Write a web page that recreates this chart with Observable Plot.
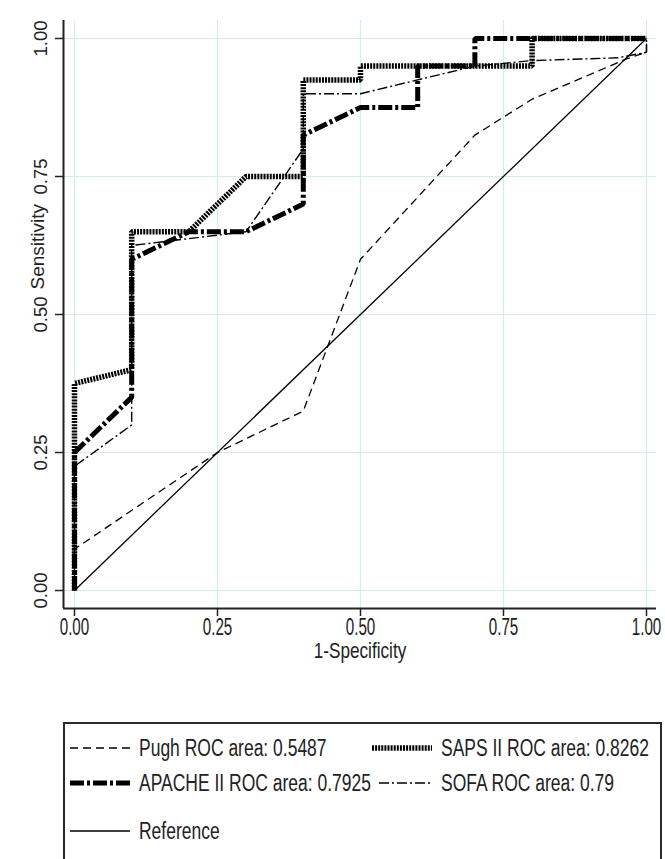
<!DOCTYPE html>
<html>
<head>
<meta charset="utf-8">
<script src="https://cdn.jsdelivr.net/npm/d3@7"></script>
<script src="https://cdn.jsdelivr.net/npm/@observablehq/plot@0.6"></script>
<style>
  html, body { margin: 0; padding: 0; background: #fff; }
  #wrap { position: relative; width: 665px; height: 859px; overflow: hidden; }
  #legend { position: absolute; left: 63px; top: 722px; width: 599px; height: 170px;
            border: 2px solid #2a2a2a; box-sizing: border-box; background: #fff; }
  .lg-item { position: absolute; display: flex; align-items: center; height: 30px;
             font-family: "Liberation Sans", Arial, sans-serif;
             font-size: 23px; color: #222; white-space: nowrap; }
  .lg-item svg { margin-right: 9px; flex: none; }
  .lg-item span { display: inline-block; transform: scaleX(0.76); transform-origin: left center; }
</style>
</head>
<body>
<div id="wrap"><div id="chart"></div><div id="legend"></div></div>
<script>
// ---- data ----
const xTicks = [0, 0.25, 0.5, 0.75, 1];
const yTicks = [0, 0.25, 0.5, 0.75, 1];

const pughX = [0, 0, 0.25, 0.4, 0.5, 0.7, 0.8, 0.965, 1, 1];
const pughY = [0, 0.075, 0.25, 0.325, 0.6, 0.825, 0.89, 0.963, 0.975, 1];

const sapsX = [0, 0, 0.1, 0.1, 0.2, 0.3, 0.4, 0.4, 0.5, 0.5, 0.8, 0.8, 1];
const sapsY = [0, 0.375, 0.4, 0.65, 0.65, 0.75, 0.75, 0.925, 0.925, 0.95, 0.95, 1, 1];

const apacheX = [0, 0, 0.1, 0.1, 0.2, 0.3, 0.4, 0.4, 0.5, 0.6, 0.6, 0.7, 0.7, 1];
const apacheY = [0, 0.25, 0.35, 0.6, 0.65, 0.65, 0.7, 0.825, 0.875, 0.875, 0.95, 0.95, 1, 1];

const sofaX = [0, 0, 0.1, 0.1, 0.3, 0.4, 0.4, 0.5, 0.7, 0.8, 0.95, 1, 1];
const sofaY = [0, 0.225, 0.3, 0.625, 0.65, 0.8, 0.9, 0.9, 0.95, 0.96, 0.965, 0.975, 1];

const refX = [0, 1];
const refY = [0, 1];

const seriesNames = ["Pugh", "SAPS II", "APACHE II", "SOFA", "Reference"];
const legendLabels = ["Pugh ROC area: 0.5487", "SAPS II ROC area: 0.8262",
                      "APACHE II ROC area: 0.7925", "SOFA ROC area: 0.79", "Reference"];

// ---- styles ----
const styles = {
  "Pugh":      {strokeWidth: 1.3, strokeDasharray: "8,5"},
  "SAPS II":   {strokeWidth: 5.5, strokeDasharray: "2,1.1"},
  "APACHE II": {strokeWidth: 5, strokeDasharray: "14,3,3,3"},
  "SOFA":      {strokeWidth: 1.4, strokeDasharray: "10,3,2,3"},
  "Reference": {strokeWidth: 1.3}
};

const pts = (xs, ys) => xs.map((x, i) => ({x, y: ys[i]}));
const data = {
  "Pugh": pts(pughX, pughY),
  "SAPS II": pts(sapsX, sapsY),
  "APACHE II": pts(apacheX, apacheY),
  "SOFA": pts(sofaX, sofaY),
  "Reference": pts(refX, refY)
};

const regular = '"Liberation Sans", Arial, sans-serif';
const fmt = d3.format(".2f");
const xDomain = [-0.0192, 1.0175];
const yDomain = [-0.0326, 1.0326];
const gridColor = "#d3ecef";

const chart = Plot.plot({
  width: 665,
  height: 700,
  marginLeft: 63,
  marginRight: 9,
  marginTop: 20,
  marginBottom: 92,
  style: {background: "#fff", color: "#222"},
  x: {domain: xDomain},
  y: {domain: yDomain},
  marks: [
    Plot.gridX(xTicks, {stroke: gridColor, strokeOpacity: 1, strokeWidth: 1.2}),
    Plot.gridY(yTicks, {stroke: gridColor, strokeOpacity: 1, strokeWidth: 1.2}),
    Plot.ruleX([xDomain[0]], {stroke: "#222", strokeWidth: 2}),
    Plot.ruleY([yDomain[0]], {stroke: "#222", strokeWidth: 2}),
    Plot.axisX({ticks: xTicks, tickFormat: fmt, tickSize: 8, tickPadding: 2,
      fontSize: 23, fontFamily: regular, strokeWidth: 1.5, label: null}),
    Plot.axisX({ticks: [], tickSize: 0, fontSize: 22, fontFamily: regular,
      label: "1-Specificity", labelAnchor: "center", labelOffset: 49, labelArrow: "none"}),
    Plot.axisY({ticks: yTicks, tickFormat: fmt, tickSize: 8, tickPadding: 9, tickRotate: -90,
      fontSize: 18.5, fontFamily: regular, strokeWidth: 1.5, label: null}),
    Plot.text(["Sensitivity"], {frameAnchor: "left", rotate: -90, dx: -26, dy: -25,
      fontSize: 19, fontFamily: regular, fill: "#222"}),
    ...seriesNames.map(name => Plot.line(data[name], {x: "x", y: "y", stroke: "#000",
      strokeLinejoin: "miter", strokeLinecap: "butt", ...styles[name]}))
  ]
});
document.getElementById("chart").appendChild(chart);

// condensed look for the x-axis texts (narrow font in the original)
function condense(sel, k) {
  sel.each(function () {
    const L = this.getComputedTextLength();
    this.setAttribute("textLength", L * k);
    this.setAttribute("lengthAdjust", "spacingAndGlyphs");
  });
}
const svg = d3.select(chart.tagName.toLowerCase() === "svg" ? chart : chart.querySelector("svg"));
svg.selectAll('g[aria-label="x-axis label"] text').attr("font-size", 22);
condense(svg.selectAll('g[aria-label="x-axis tick label"] text'), 0.66);
condense(svg.selectAll('g[aria-label="x-axis label"] text'), 0.78);

// ---- legend ----
const legend = d3.select("#legend");
const layout = [
  {name: "Pugh", left: 5, top: 9},
  {name: "SAPS II", left: 307, top: 9},
  {name: "APACHE II", left: 5, top: 44},
  {name: "SOFA", left: 314, top: 44},
  {name: "Reference", left: 5, top: 92}
];
layout.forEach(l => {
  const i = seriesNames.indexOf(l.name);
  const item = legend.append("div").attr("class", "lg-item")
    .style("left", l.left + "px").style("top", l.top + "px");
  const w = l.name === "SOFA" ? 53 : 60;
  const s = item.append("svg").attr("width", w).attr("height", 14);
  const st = styles[l.name];
  s.append("line").attr("x1", 0).attr("x2", w).attr("y1", 7).attr("y2", 7)
    .attr("stroke", "#000").attr("stroke-width", st.strokeWidth)
    .attr("stroke-dasharray", st.strokeDasharray || null);
  item.append("span").text(legendLabels[i]);
});
</script>
</body>
</html>
